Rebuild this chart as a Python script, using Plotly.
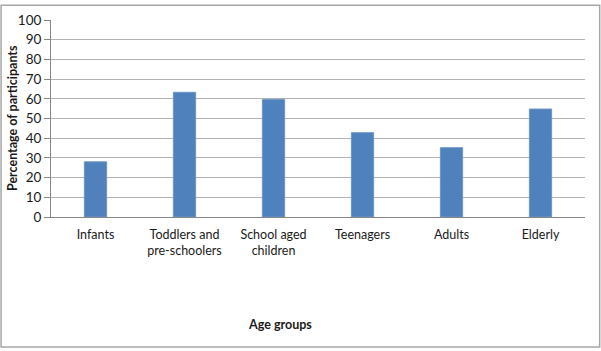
import plotly.graph_objects as go

categories = ["Infants", "Toddlers and<br>pre-schoolers", "School aged<br>children", "Teenagers", "Adults", "Elderly"]
values = [28, 63.3, 59.7, 42.8, 35.2, 54.8]
y_ticks = [0, 10, 20, 30, 40, 50, 60, 70, 80, 90, 100]

FONT = "Lato, Carlito, Calibri, sans-serif"

fig = go.Figure(go.Bar(
    x=categories, y=values,
    marker=dict(color="#4F81BD", line=dict(color="#6E95C8", width=1)),
))

fig.update_layout(
    width=601, height=351,
    margin=dict(l=51, r=16, t=16, b=134),
    paper_bgcolor="white", plot_bgcolor="white",
    bargap=0.75,
    showlegend=False,
    font=dict(family=FONT, size=12, color="#1a1a1a"),
    xaxis=dict(
        showgrid=False, showline=True, linecolor="#868686", linewidth=1,
        ticks="", tickfont=dict(size=12.5), ticklabelstandoff=6,
    ),
    yaxis=dict(
        range=[0, 100], tickvals=y_ticks, showgrid=True, gridcolor="#B3B3B3",
        gridwidth=1, showline=True, linecolor="#868686", linewidth=1,
        ticks="outside", ticklen=6, tickcolor="#868686",
        tickfont=dict(size=13.5), zeroline=False,
    ),
    annotations=[
        dict(text="<b>Percentage of participants</b>", xref="paper", yref="paper",
             x=-0.072, y=0.5, textangle=-90, showarrow=False,
             xanchor="center", yanchor="middle", font=dict(size=12.5)),
        dict(text="<b>Age groups</b>", xref="paper", yref="paper",
             x=0.429, y=-0.545, showarrow=False,
             xanchor="center", yanchor="middle", font=dict(size=12.5)),
    ],
    shapes=[dict(type="rect", xref="paper", yref="paper", x0=-0.0935, x1=1.0275,
                 y0=-0.66, y1=1.075, line=dict(color="#A6A6A6", width=1.5))],
)

fig.write_html(
    "out.html",
    config={"displayModeBar": False},
    post_script="document.body.style.margin='0';document.body.style.overflow='hidden';",
)
